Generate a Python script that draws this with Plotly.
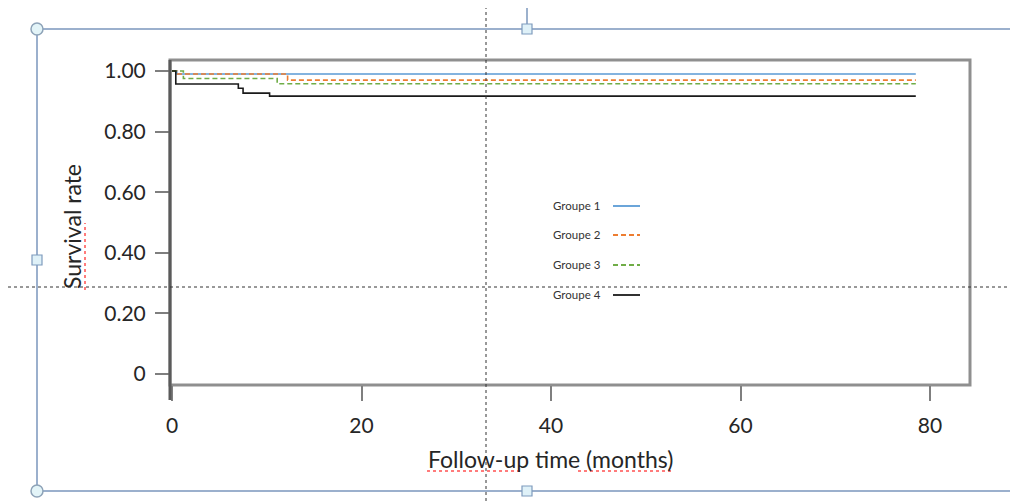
import plotly.graph_objects as go

# ---- data ----
groups = ["Groupe 1", "Groupe 2", "Groupe 3", "Groupe 4"]
g1_t = [0, 0.5, 78.5]
g1_s = [1.0, 0.99, 0.99]
g2_t = [0, 0.5, 12.2, 78.5]
g2_s = [1.0, 0.99, 0.970, 0.970]
g3_t = [0, 1.2, 11.1, 78.5]
g3_s = [1.0, 0.975, 0.958, 0.958]
g4_t = [0, 0.4, 7.0, 7.5, 10.3, 78.5]
g4_s = [1.0, 0.957, 0.943, 0.927, 0.917, 0.917]
x_ticks = [0, 20, 40, 60, 80]
y_ticks = [0, 0.2, 0.4, 0.6, 0.8, 1.0]
y_tick_text = ["0", "0.20", "0.40", "0.60", "0.80", "1.00"]

colors = ["#5b9bd5", "#ed7d31", "#70ad47", "#1a1a1a"]
dashes = ["solid", "5px,3px", "5px,3px", "solid"]

O = 8  # page body margin offset
W, H = 1018 - O, 502 - O
L, R, T, B = 170, 970, 60, 385  # plot area in page px


def px(x):
    return (x - L) / (R - L)


def py(y):
    return (B - y) / (B - T)


fig = go.Figure()
for name, t, s, c, d in zip(groups, [g1_t, g2_t, g3_t, g4_t], [g1_s, g2_s, g3_s, g4_s], colors, dashes):
    fig.add_trace(go.Scatter(x=t, y=s, mode="lines", name=name, line=dict(color=c, width=1.6, dash=d, shape="hv"),
                             showlegend=False))

shapes = []
# plot frame
shapes.append(dict(type="rect", xref="paper", yref="paper", x0=0, x1=1, y0=0, y1=1,
                   line=dict(color="#8f8f8f", width=3), layer="below"))
# left axis line (darker, extends below)
shapes.append(dict(type="line", xref="paper", yref="paper", x0=0, x1=0, y0=py(400), y1=1,
                   line=dict(color="#5a5a5a", width=3)))

# custom legend (text left, line sample right)
leg_y = [205, 234, 264, 294]
annotations = []
for name, c, d, yy in zip(groups, colors, dashes, leg_y):
    annotations.append(dict(xref="paper", yref="paper", x=px(551), y=py(yy), xanchor="left", yanchor="middle",
                            text=name, showarrow=False, font=dict(family="Lato", size=11.5, color="#333333")))
    shapes.append(dict(type="line", xref="paper", yref="paper", x0=px(613), x1=px(640), y0=py(yy + 1), y1=py(yy + 1),
                       line=dict(color=c, width=1.8, dash=d)))

# axis titles
annotations.append(dict(xref="paper", yref="paper", x=px(550), y=py(459), xanchor="center", yanchor="middle",
                        text="Follow-up time (months)", showarrow=False,
                        font=dict(family="Lato", size=23, color="#262626")))
annotations.append(dict(xref="paper", yref="paper", x=px(72), y=py(227), xanchor="center", yanchor="middle",
                        text="Survival rate", showarrow=False, textangle=-90,
                        font=dict(family="Lato", size=23, color="#262626")))

# spell-check squiggles
red = "#ff5050"
for x0, x1 in [(427, 522), (578, 672)]:
    shapes.append(dict(type="line", xref="paper", yref="paper", x0=px(x0), x1=px(x1), y0=py(471), y1=py(471),
                       line=dict(color=red, width=1.5, dash="dot")))
shapes.append(dict(type="line", xref="paper", yref="paper", x0=px(85), x1=px(85), y0=py(290), y1=py(223),
                   line=dict(color=red, width=1.5, dash="dot")))

# Word selection decorations
sel = "#7b97bd"
shapes.append(dict(type="rect", xref="paper", yref="paper", x0=px(37), x1=px(1017), y0=py(491), y1=py(29),
                   line=dict(color=sel, width=1.5)))
shapes.append(dict(type="line", xref="paper", yref="paper", x0=px(527), x1=px(527), y0=py(0), y1=py(29),
                   line=dict(color=sel, width=1.5)))
shapes.append(dict(type="line", xref="paper", yref="paper", x0=px(486), x1=px(486), y0=py(0), y1=py(502),
                   line=dict(color="#333333", width=1, dash="dot")))
shapes.append(dict(type="line", xref="paper", yref="paper", x0=px(8), x1=px(1018), y0=py(287), y1=py(287),
                   line=dict(color="#333333", width=1, dash="dot")))
for cx, cy in [(37, 29), (1017, 29), (37, 491), (1017, 491)]:
    shapes.append(dict(type="circle", xref="paper", yref="paper", x0=px(cx - 6), x1=px(cx + 6), y0=py(cy + 6),
                       y1=py(cy - 6), line=dict(color="#8ea3b8", width=1.5), fillcolor="#e3f4f8"))
for cx, cy in [(527, 29), (37, 260), (1017, 260), (527, 491)]:
    shapes.append(dict(type="rect", xref="paper", yref="paper", x0=px(cx - 5), x1=px(cx + 5), y0=py(cy + 5),
                       y1=py(cy - 5), line=dict(color="#7f9bbd", width=1.2), fillcolor="#dff1f8"))

fig.update_layout(
    width=W, height=H,
    margin=dict(l=L - O, r=1018 - R, t=T - O, b=502 - B),
    paper_bgcolor="white", plot_bgcolor="white",
    shapes=shapes, annotations=annotations,
    showlegend=False,
    xaxis=dict(range=[-0.211, 84.22], tickvals=x_ticks, ticks="outside", ticklen=15, tickwidth=2,
               tickcolor="#7f7f7f", showgrid=False, zeroline=False, showline=False,
               tickfont=dict(family="Lato", size=21, color="#262626"), ticklabelstandoff=7),
    yaxis=dict(range=[-0.0363, 1.0363], tickvals=y_ticks, ticktext=y_tick_text, ticks="outside", ticklen=14,
               tickwidth=2, tickcolor="#7f7f7f", showgrid=False, zeroline=False, showline=False,
               tickfont=dict(family="Lato", size=21, color="#262626"), ticklabelstandoff=5),
)

fig.write_html("out.html")
